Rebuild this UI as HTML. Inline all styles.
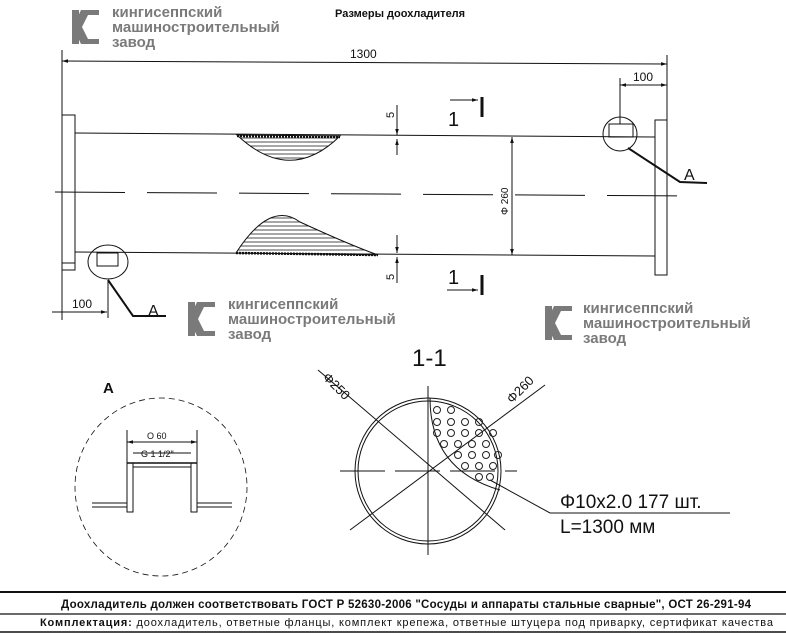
<!DOCTYPE html>
<html><head><meta charset="utf-8"><style>
html,body{margin:0;padding:0;background:#fff;width:786px;height:634px;overflow:hidden}
svg{display:block}
.lg{font-family:"Liberation Sans",sans-serif;font-weight:bold;fill:#7a7a7a;font-size:15px}
.t{font-family:"Liberation Sans",sans-serif;fill:#111}
</style></head><body>
<svg width="786" height="634" viewBox="0 0 786 634" xmlns="http://www.w3.org/2000/svg">
<defs>
<pattern id="h" width="6" height="4" patternUnits="userSpaceOnUse"><line x1="0" y1="2" x2="6" y2="2" stroke="#222" stroke-width="0.8"/></pattern>
<marker id="a" viewBox="0 0 10 10" refX="10" refY="5" markerWidth="8" markerHeight="6" orient="auto-start-reverse"><path d="M0 2L10 5L0 8z" fill="#111"/></marker>
<g id="logo"><path d="M0 0h7v34h-7z M9 0h18v5h-11l-6 12 6 12h11v5h-18l-8-17z" fill="#7a7a7a"/></g>
</defs>
<use href="#logo" x="72" y="10"/>
<text class="lg" x="112" y="17">кингисеппский</text>
<text class="lg" x="112" y="32">машиностроительный</text>
<text class="lg" x="112" y="47">завод</text>
<use href="#logo" x="188" y="302"/>
<text class="lg" x="228" y="309">кингисеппский</text>
<text class="lg" x="228" y="324">машиностроительный</text>
<text class="lg" x="228" y="339">завод</text>
<use href="#logo" x="545" y="306"/>
<text class="lg" x="583" y="313">кингисеппский</text>
<text class="lg" x="583" y="328">машиностроительный</text>
<text class="lg" x="583" y="343">завод</text>
<text class="t" x="335" y="17" font-size="11" font-weight="bold">Размеры доохладителя</text>
<g stroke="#111" fill="none" stroke-width="1">
<line x1="62" y1="50" x2="62" y2="320"/><line x1="667" y1="55" x2="667" y2="120"/>
<line x1="62" y1="61" x2="667" y2="64" marker-start="url(#a)" marker-end="url(#a)"/>
<rect x="62" y="115" width="13" height="148"/><rect x="62" y="263" width="13" height="7"/>
<rect x="655" y="120" width="12" height="155"/>
<line x1="75" y1="133" x2="655" y2="137"/><line x1="75" y1="252" x2="655" y2="256"/>
<line x1="55" y1="192" x2="690" y2="196" stroke-dasharray="70,22"/>
<path d="M237 135 Q290 185 340 136 Z" fill="url(#h)"/>
<line x1="237" y1="136" x2="340" y2="137" stroke-width="2.5" stroke-dasharray="2,1"/>
<path d="M236 253 Q270 200 300 222 Q350 245 378 255 Z" fill="url(#h)"/>
<line x1="236" y1="253" x2="378" y2="255" stroke-width="2.5" stroke-dasharray="2,1"/>
<line x1="397" y1="105" x2="397" y2="135" marker-end="url(#a)"/><line x1="397" y1="155" x2="397" y2="139" marker-end="url(#a)"/>
<line x1="397" y1="235" x2="397" y2="253" marker-end="url(#a)"/><line x1="397" y1="283" x2="397" y2="257" marker-end="url(#a)"/>
<line x1="512" y1="137" x2="512" y2="255" marker-start="url(#a)" marker-end="url(#a)"/>
<line x1="450" y1="100" x2="478" y2="100" marker-end="url(#a)"/><line x1="447" y1="290" x2="478" y2="290" marker-end="url(#a)"/>
<line x1="482" y1="97" x2="482" y2="117" stroke-width="3"/><line x1="482" y1="275" x2="482" y2="295" stroke-width="3"/>
<ellipse cx="620" cy="134" rx="17" ry="17"/><rect x="609" y="124" width="24" height="13"/>
<polyline points="628,148 680,182 707,183" stroke-width="2"/>
<ellipse cx="108" cy="262" rx="20" ry="17"/><rect x="97" y="253" width="21" height="13"/>
<polyline points="108,280 133,316 166,316" stroke-width="2"/>
<line x1="620" y1="78" x2="620" y2="124"/><line x1="620" y1="85" x2="667" y2="85" marker-start="url(#a)" marker-end="url(#a)"/>
<line x1="108" y1="280" x2="108" y2="318"/><line x1="52" y1="312" x2="107" y2="312" marker-end="url(#a)"/>
<ellipse cx="161" cy="487" rx="86" ry="89" stroke-dasharray="6,4" stroke-width="0.8"/>
<rect x="127" y="463" width="6" height="49"/><rect x="191" y="463" width="6" height="49"/>
<line x1="127" y1="463" x2="197" y2="463" stroke-width="1.5"/><line x1="133" y1="467" x2="191" y2="467"/>
<line x1="92" y1="503" x2="127" y2="503"/><line x1="92" y1="507" x2="127" y2="507"/>
<line x1="197" y1="503" x2="232" y2="503"/><line x1="197" y1="507" x2="232" y2="507"/>
<line x1="127" y1="430" x2="127" y2="463"/><line x1="197" y1="430" x2="197" y2="463"/>
<line x1="127" y1="442" x2="197" y2="442" marker-start="url(#a)" marker-end="url(#a)"/><line x1="133" y1="453" x2="191" y2="453"/>
<circle cx="428" cy="471" r="73"/><circle cx="428" cy="471" r="70"/>
<line x1="340" y1="471" x2="517" y2="471" stroke-dasharray="45,10"/>
<line x1="428" y1="386" x2="428" y2="555"/>
<line x1="318" y1="370" x2="505" y2="530"/><line x1="545" y1="385" x2="350" y2="530"/>
<polyline points="490,480 550,513 730,513"/>
<path d="M430 398 Q430 470 500 490" />
</g>
<g fill="none" stroke="#222" stroke-width="1">
<circle cx="437" cy="410" r="3.5"/><circle cx="451" cy="410" r="3.5"/>
<circle cx="437" cy="422" r="3.5"/><circle cx="451" cy="422" r="3.5"/><circle cx="465" cy="422" r="3.5"/><circle cx="479" cy="422" r="3.5"/>
<circle cx="437" cy="433" r="3.5"/><circle cx="451" cy="433" r="3.5"/><circle cx="465" cy="433" r="3.5"/><circle cx="479" cy="433" r="3.5"/><circle cx="493" cy="433" r="3.5"/>
<circle cx="444" cy="444" r="3.5"/><circle cx="458" cy="444" r="3.5"/><circle cx="472" cy="444" r="3.5"/><circle cx="486" cy="444" r="3.5"/>
<circle cx="458" cy="455" r="3.5"/><circle cx="472" cy="455" r="3.5"/><circle cx="486" cy="455" r="3.5"/><circle cx="498" cy="455" r="3.5"/>
<circle cx="465" cy="466" r="3.5"/><circle cx="479" cy="466" r="3.5"/><circle cx="493" cy="466" r="3.5"/>
<circle cx="479" cy="477" r="3.5"/><circle cx="490" cy="477" r="3.5"/>
</g>
<text class="t" x="350" y="58" font-size="12">1300</text>
<text class="t" x="633" y="81" font-size="12">100</text>
<text class="t" x="72" y="308" font-size="12">100</text>
<text class="t" x="448" y="126" font-size="20">1</text>
<text class="t" x="448" y="284" font-size="20">1</text>
<text class="t" x="684" y="180" font-size="16">A</text>
<text class="t" x="148" y="316" font-size="16">A</text>
<text class="t" font-size="11" transform="translate(394,118) rotate(-90)">5</text>
<text class="t" font-size="11" transform="translate(394,280) rotate(-90)">5</text>
<text class="t" font-size="10" transform="translate(508,215) rotate(-90)">Φ 260</text>
<text class="t" x="103" y="393" font-size="15" font-weight="bold">A</text>
<text class="t" x="147" y="439" font-size="9">O 60</text>
<text class="t" x="141" y="457" font-size="9">G 1 1/2"</text>
<text class="t" x="412" y="366" font-size="24">1-1</text>
<text class="t" font-size="13" transform="translate(322,378) rotate(45)">Φ250</text>
<text class="t" font-size="13" transform="translate(512,404) rotate(-45)">Φ260</text>
<text class="t" x="560" y="508" font-size="19">Φ10x2.0 177 шт.</text>
<text class="t" x="560" y="533" font-size="19">L=1300 мм</text>
<line x1="0" y1="592" x2="786" y2="592" stroke="#111" stroke-width="2"/>
<line x1="0" y1="614" x2="786" y2="614" stroke="#111" stroke-width="1.2"/>
<line x1="0" y1="632" x2="786" y2="632" stroke="#111" stroke-width="1.5"/>
<text class="t" x="406" y="608" font-size="11.5" font-weight="bold" text-anchor="middle" textLength="690">Доохладитель должен соответствовать ГОСТ Р 52630-2006 "Сосуды и аппараты стальные сварные", ОСТ 26-291-94</text>
<text class="t" x="40" y="626" font-size="11" textLength="733"><tspan font-weight="bold">Комплектация:</tspan> доохладитель, ответные фланцы, комплект крепежа, ответные штуцера под приварку, сертификат качества</text>
</svg>
</body></html>
